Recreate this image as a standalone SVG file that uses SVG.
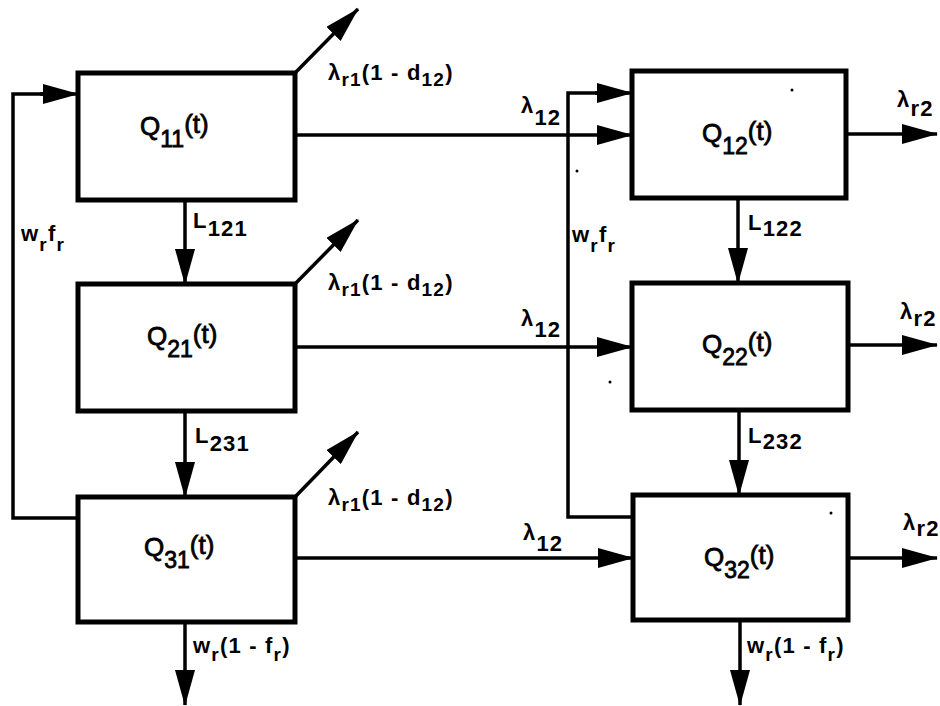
<svg xmlns="http://www.w3.org/2000/svg" width="940" height="706" viewBox="0 0 940 706">
<style>
.box{fill:#fff;stroke:#000;stroke-width:5}
.ln{fill:none;stroke:#000;stroke-width:3.5}
.arr{fill:none;stroke:#000;stroke-width:3.5;marker-end:url(#ah)}
text{font-family:"Liberation Sans",Arial,sans-serif;fill:#000}
.q{font-size:26px;stroke:#000;stroke-width:0.8}
.qs{font-size:23px}
.lb{font-size:22px;font-weight:bold;letter-spacing:1.2px}
.s{font-size:19px}
</style>
<defs>
<marker id="ah" viewBox="0 0 36 20" markerWidth="36" markerHeight="20" refX="35" refY="10" orient="auto" markerUnits="userSpaceOnUse">
<path d="M0,0 L36,10 L0,20 z" fill="#000"/>
</marker>
</defs>
<rect width="940" height="706" fill="#fff"/>
<g id="connectors">
<path class="ln" d="M78,518 H13 V94 H45"/>
<path class="arr" d="M40,94 H78"/>
<path class="ln" d="M633,517 H568 V93 H600"/>
<path class="arr" d="M595,93 H632"/>
<path class="arr" d="M295,135 H632"/>
<path class="arr" d="M295,347 H632"/>
<path class="arr" d="M295,558 H633"/>
<path class="arr" d="M846,134 H937"/>
<path class="arr" d="M848,345 H937"/>
<path class="arr" d="M848,558 H937"/>
<path class="arr" d="M185,200 V284"/>
<path class="arr" d="M185,411 V497"/>
<path class="arr" d="M185,622 V705"/>
<path class="arr" d="M738,198 V283"/>
<path class="arr" d="M739,410 V495"/>
<path class="arr" d="M740,620 V705"/>
<path class="arr" d="M295,73 L358,9"/>
<path class="arr" d="M295,284 L358,220"/>
<path class="arr" d="M295,497 L358,432"/>
</g>
<g id="Q11"><rect class="box" x="78" y="73" width="217" height="127"/>
<text class="q" x="140" y="135">Q<tspan class="qs" dy="12">11</tspan><tspan dy="-14">(t)</tspan></text></g>
<g id="Q21"><rect class="box" x="78" y="284" width="217" height="127"/>
<text class="q" x="147" y="345">Q<tspan class="qs" dy="12">21</tspan><tspan dy="-14">(t)</tspan></text></g>
<g id="Q31"><rect class="box" x="78" y="497" width="217" height="125"/>
<text class="q" x="144" y="556">Q<tspan class="qs" dy="12">31</tspan><tspan dy="-14">(t)</tspan></text></g>
<g id="Q12"><rect class="box" x="632" y="71" width="214" height="127"/>
<text class="q" x="702" y="142">Q<tspan class="qs" dy="12">12</tspan><tspan dy="-14">(t)</tspan></text></g>
<g id="Q22"><rect class="box" x="632" y="283" width="216" height="127"/>
<text class="q" x="702" y="353">Q<tspan class="qs" dy="12">22</tspan><tspan dy="-14">(t)</tspan></text></g>
<g id="Q32"><rect class="box" x="633" y="495" width="215" height="125"/>
<text class="q" x="704" y="566">Q<tspan class="qs" dy="12">32</tspan><tspan dy="-14">(t)</tspan></text></g>
<g id="labels">
<text class="lb" x="328" y="80">λ<tspan class="s" dy="6">r1</tspan><tspan dy="-6">(1 - d</tspan><tspan class="s" dy="6">12</tspan><tspan dy="-6">)</tspan></text>
<text class="lb" x="328" y="290">λ<tspan class="s" dy="6">r1</tspan><tspan dy="-6">(1 - d</tspan><tspan class="s" dy="6">12</tspan><tspan dy="-6">)</tspan></text>
<text class="lb" x="328" y="505">λ<tspan class="s" dy="6">r1</tspan><tspan dy="-6">(1 - d</tspan><tspan class="s" dy="6">12</tspan><tspan dy="-6">)</tspan></text>
<text class="lb" x="521" y="113">λ<tspan dy="12">12</tspan></text>
<text class="lb" x="521" y="326">λ<tspan dy="11">12</tspan></text>
<text class="lb" x="523" y="540">λ<tspan dy="11">12</tspan></text>
<text class="lb" x="897" y="107">λ<tspan dy="9">r2</tspan></text>
<text class="lb" x="900" y="319">λ<tspan dy="7">r2</tspan></text>
<text class="lb" x="903" y="530">λ<tspan dy="6">r2</tspan></text>
<text class="lb" x="193" y="228">L<tspan dy="8">121</tspan></text>
<text class="lb" x="195" y="443">L<tspan dy="8">231</tspan></text>
<text class="lb" x="748" y="230">L<tspan dy="6">122</tspan></text>
<text class="lb" x="748" y="443">L<tspan dy="6">232</tspan></text>
<text class="lb" x="21" y="241">w<tspan class="s" dy="10">r</tspan><tspan dy="-10">f</tspan><tspan class="s" dy="10">r</tspan></text>
<text class="lb" x="572" y="242">w<tspan class="s" dy="10">r</tspan><tspan dy="-10">f</tspan><tspan class="s" dy="10">r</tspan></text>
<text class="lb" x="193" y="653">w<tspan class="s" dy="8">r</tspan><tspan dy="-8">(1 - f</tspan><tspan class="s" dy="8">r</tspan><tspan dy="-8">)</tspan></text>
<text class="lb" x="747" y="653">w<tspan class="s" dy="8">r</tspan><tspan dy="-8">(1 - f</tspan><tspan class="s" dy="8">r</tspan><tspan dy="-8">)</tspan></text>
</g>
<g id="specks" fill="#000">
<circle cx="792" cy="90" r="1.5"/>
<circle cx="577" cy="171" r="1.5"/>
<circle cx="610" cy="382" r="1.5"/>
<circle cx="831" cy="513" r="1.5"/>
</g>
</svg>
